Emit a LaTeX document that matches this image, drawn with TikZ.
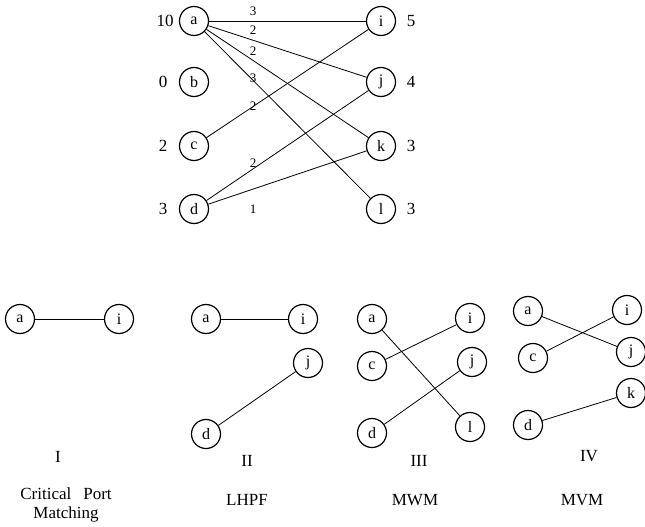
\documentclass[tikz,border=0pt]{standalone}
\usepackage{fontspec}
\setmainfont{Liberation Serif}
\begin{document}
\begin{tikzpicture}[x=1pt,y=-1pt,
  vtx/.style={draw,circle,line width=1.2pt,minimum size=29pt,inner sep=0pt,font=\fontsize{16}{16}\selectfont},
  edg/.style={line width=0.8pt},
  wlab/.style={font=\fontsize{13}{13}\selectfont,inner sep=0pt},
  side/.style={font=\fontsize{17}{17}\selectfont,inner sep=0pt},
  captxt/.style={font=\fontsize{17}{19}\selectfont,inner sep=0pt,align=center}]
\useasboundingbox (0,0) rectangle (645,527);
% top graph
\node[vtx] (a) at (194,21) {a};
\node[vtx] (b) at (194,82) {b};
\node[vtx] (c) at (194,146) {c};
\node[vtx] (d) at (194,209) {d};
\node[vtx] (i) at (381,21) {i};
\node[vtx] (j) at (381,82) {j};
\node[vtx] (k) at (381,146) {k};
\node[vtx] (l) at (381,209) {l};
\node[side] (na) at (165,21) {10};
\node[side] (nb) at (163,82) {0};
\node[side] (nc) at (163,146) {2};
\node[side] (nd) at (163,209) {3};
\node[side] (ni) at (411,21) {5};
\node[side] (nj) at (411,82) {4};
\node[side] (nk) at (411,146) {3};
\node[side] (nl) at (411,209) {3};
\draw[edg] (a) -- (i);
\draw[edg] (a) -- (j);
\draw[edg] (a) -- (k);
\draw[edg] (a) -- (l);
\draw[edg] (c) -- (i);
\draw[edg] (d) -- (j);
\draw[edg] (d) -- (k);
\node[wlab] (w1) at (253,11.5) {3};
\node[wlab] (w2) at (253,30) {2};
\node[wlab] (w3) at (253,51.5) {2};
\node[wlab] (w4) at (253,78) {3};
\node[wlab] (w5) at (253,106) {2};
\node[wlab] (w6) at (253,163) {2};
\node[wlab] (w7) at (253,209) {1};
% I
\node[vtx] (Ia) at (20,319) {a};
\node[vtx] (Ii) at (119,319) {i};
\draw[edg] (Ia) -- (Ii);
\node[captxt] (IL) at (58,457) {I};
\node[captxt] (IC) at (66,505) {Critical\hspace{12pt}Port\\Matching};
% II
\node[vtx] (IIa) at (206,319) {a};
\node[vtx] (IIi) at (303,319) {i};
\node[vtx] (IIj) at (308,363) {j};
\node[vtx] (IId) at (206,434) {d};
\draw[edg] (IIa) -- (IIi);
\draw[edg] (IId) -- (IIj);
\node[captxt] (IIL) at (247,461) {II};
\node[captxt] (IIC) at (247,500) {LHPF};
% III
\node[vtx] (IIIa) at (372,319) {a};
\node[vtx] (IIIc) at (372,366) {c};
\node[vtx] (IIId) at (372,433) {d};
\node[vtx] (IIIi) at (470,318) {i};
\node[vtx] (IIIj) at (472,362) {j};
\node[vtx] (IIIl) at (470,427) {l};
\draw[edg] (IIIa) -- (IIIl);
\draw[edg] (IIIc) -- (IIIi);
\draw[edg] (IIId) -- (IIIj);
\node[captxt] (IIIL) at (419,461) {III};
\node[captxt] (IIIC) at (415,500) {MWM};
% IV
\node[vtx] (IVa) at (528,311) {a};
\node[vtx] (IVc) at (533,358) {c};
\node[vtx] (IVd) at (528,425) {d};
\node[vtx] (IVi) at (627,310) {i};
\node[vtx] (IVj) at (631,352) {j};
\node[vtx] (IVk) at (631,393) {k};
\draw[edg] (IVa) -- (IVj);
\draw[edg] (IVc) -- (IVi);
\draw[edg] (IVd) -- (IVk);
\node[captxt] (IVL) at (589,456) {IV};
\node[captxt] (IVC) at (582,500) {MVM};
\end{tikzpicture}
\end{document}
